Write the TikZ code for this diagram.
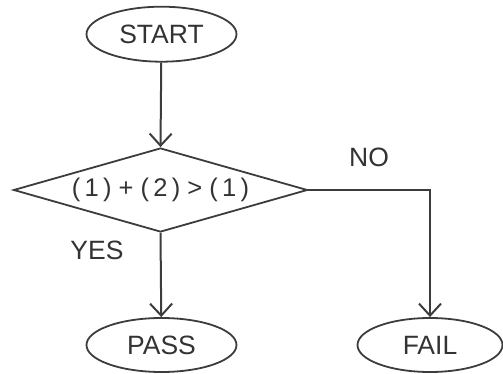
\documentclass[tikz,border=0pt]{standalone}
\usepackage{fontspec}
\setmainfont{Liberation Sans}
\usetikzlibrary{shapes.geometric,arrows.meta}
\definecolor{ln}{HTML}{3C3C3C}
\definecolor{tx}{HTML}{333333}
\begin{document}
\begin{tikzpicture}[x=1pt,y=-1pt,
  every node/.style={text=tx,font=\fontsize{26.5}{31}\selectfont},
  term/.style={ellipse,draw=ln,line width=1.8pt,inner sep=0pt,minimum width=150pt,minimum height=55pt},
  decide/.style={diamond,draw=ln,line width=1.8pt,inner sep=0pt,shape aspect=3.5,minimum width=294pt,minimum height=84pt,font=\fontsize{25.5}{30}\selectfont},
  conn/.style={draw=ln,line width=2pt,-{Straight Barb[length=12pt,width=22pt,line width=2pt]}},
  lbl/.style={inner sep=0pt}]
\useasboundingbox (0,0) rectangle (503,374);
\node[term] (start) at (161.5,34.2) {START};
\node[decide] (d) at (160.5,190) {(\,1\,) + (\,2\,) > (\,1\,)};
\node[term,minimum height=54pt] (pass) at (161.5,345) {PASS};
\node[term,minimum width=145pt,minimum height=54pt] (fail) at (430,345) {FAIL};
\coordinate (corner) at (fail.north |- d.east);
\draw[conn] (start) -- (d.north);
\draw[conn] (d.south) -- (pass);
\draw[conn] (d.east) -- (corner) -- (fail.north);
\node[lbl] (no) at (369,157) {NO};
\node[lbl] (yes) at (97,250) {YES};
\end{tikzpicture}
\end{document}
